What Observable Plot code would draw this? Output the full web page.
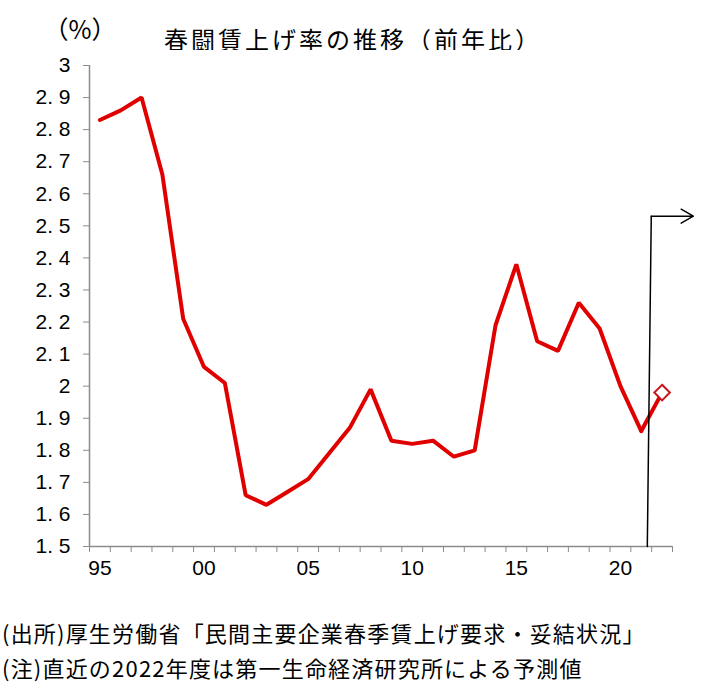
<!DOCTYPE html>
<html><head><meta charset="utf-8">
<script src="https://cdn.jsdelivr.net/npm/d3@7"></script>
<script src="https://cdn.jsdelivr.net/npm/@observablehq/plot@0.6"></script>
<style>
body{margin:0;background:#fff;font-family:"Noto Sans CJK JP",sans-serif;color:#000;}
#wrap{position:relative;width:712px;height:684px;overflow:hidden;}
#unit{position:absolute;left:30px;top:13px;width:100px;text-align:center;font-size:25px;line-height:30px;}
#title{position:absolute;left:103px;top:24px;width:500px;text-align:center;font-size:24px;line-height:30px;letter-spacing:3px;}
#chart{position:absolute;left:0;top:50px;}
#caption{position:absolute;left:2px;top:615px;font-size:22px;line-height:35px;letter-spacing:1.2px;white-space:nowrap;}
</style>
</head><body>
<div id="wrap">
  <div id="unit">（%）</div>
  <div id="title">春闘賃上げ率の推移（前年比）</div>
  <div id="chart"></div>
  <div id="caption">(出所)厚生労働省「民間主要企業春季賃上げ要求・妥結状況」<br>(注)直近の2022年度は第一生命経済研究所による予測値</div>
</div>
<script>
const years = [1995,1996,1997,1998,1999,2000,2001,2002,2003,2004,2005,2006,2007,2008,2009,2010,2011,2012,2013,2014,2015,2016,2017,2018,2019,2020,2021];
const rates = [2.83,2.86,2.90,2.66,2.21,2.06,2.01,1.66,1.63,1.67,1.71,1.79,1.87,1.99,1.83,1.82,1.83,1.78,1.80,2.19,2.38,2.14,2.11,2.26,2.18,2.00,1.86];
const forecastYears = [2021, 2022];
const forecastRates = [1.86, 1.98];
const yTicks = [1.5,1.6,1.7,1.8,1.9,2.0,2.1,2.2,2.3,2.4,2.5,2.6,2.7,2.8,2.9,3.0];
const xLabelYears = [1995,2000,2005,2010,2015,2020];
const xLabels = ["95","00","05","10","15","20"];
const allYears = [...years, 2022];
const arrowX = [2021.29, 2021.48, 2023.5];
const arrowY = [1.5, 2.53, 2.53];

const data = years.map((y, i) => ({year: y, rate: rates[i]}));
const forecast = forecastYears.map((y, i) => ({year: y, rate: forecastRates[i]}));
const boundaries = [...allYears.map(y => y - 0.5), allYears[allYears.length - 1] + 0.5];
const vertical = arrowX.slice(0, 2).map((x, i) => ({x, y: arrowY[i]}));
const horiz = [{x1: arrowX[1], y1: arrowY[1], x2: arrowX[2], y2: arrowY[2]}];
const gray = "#8c8c8c";
const red = "#e00000";

const chart = Plot.plot({
  width: 712,
  height: 536,
  marginLeft: 89,
  marginRight: 40,
  marginTop: 15,
  marginBottom: 40,
  style: {fontFamily: "'Liberation Sans', Arial, sans-serif", fontSize: "21px", color: "#000", background: "#fff"},
  x: {type: "linear", domain: [boundaries[0], boundaries[boundaries.length - 1]]},
  y: {domain: [1.5, 3.0]},
  marks: [
    Plot.axisY(yTicks, {tickSize: 6, tickPadding: 13, stroke: gray, fill: "#000", fontSize: 21,
      tickFormat: d => Number.isInteger(d) ? String(d) : d3.format(".1f")(d).replace(".", ". "), label: null}),
    Plot.axisX(boundaries, {tickSize: 6, stroke: gray, tickFormat: () => "", label: null}),
    Plot.axisX(xLabelYears, {tickSize: 0, tickPadding: 14, fill: "#000", fontSize: 21,
      tickFormat: d => xLabels[xLabelYears.indexOf(d)], label: null}),
    Plot.ruleX([boundaries[0]], {stroke: gray, strokeWidth: 1.5}),
    Plot.ruleY([1.5], {stroke: gray, strokeWidth: 1.5}),
    Plot.line(data, {x: "year", y: "rate", stroke: red, strokeWidth: 4, strokeLinejoin: "miter"}),
    Plot.line(forecast, {x: "year", y: "rate", stroke: red, strokeWidth: 4}),
    Plot.line(vertical, {x: "x", y: "y", stroke: "#000", strokeWidth: 1.5}),
    Plot.arrow(horiz, {x1: "x1", y1: "y1", x2: "x2", y2: "y2", stroke: "#000", strokeWidth: 1.5, headLength: 19, headAngle: 60}),
    Plot.dot(forecast.slice(1), {x: "year", y: "rate", symbol: "diamond2", r: 7, fill: "#fff", stroke: "#c8141e", strokeWidth: 2})
  ]
});
document.getElementById("chart").appendChild(chart);
</script>
</body></html>
